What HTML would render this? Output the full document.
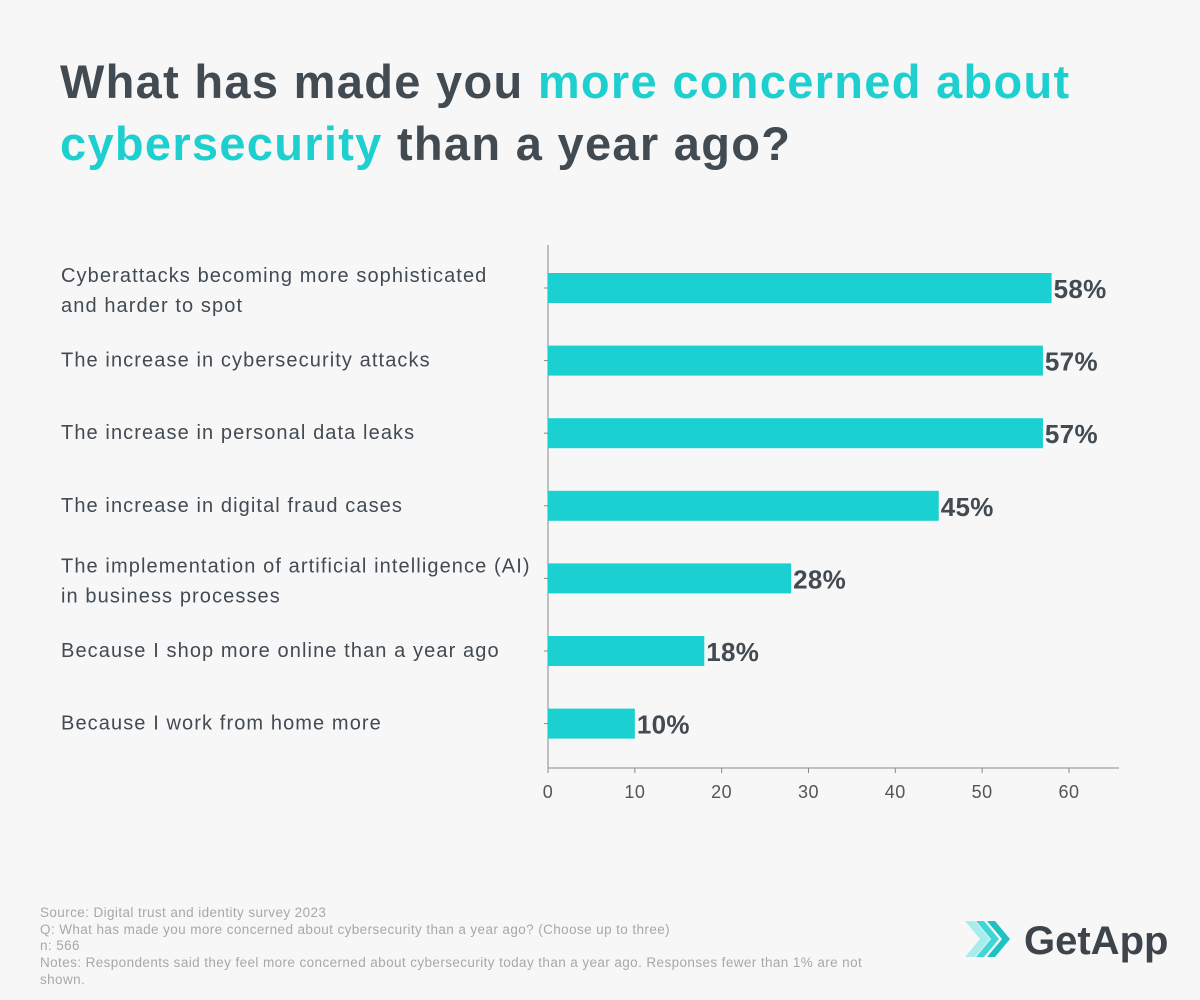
<!DOCTYPE html>
<html><head><meta charset="utf-8">
<style>
body{margin:0;width:1200px;height:1000px;background:#f7f7f7;font-family:"Liberation Sans",sans-serif;overflow:hidden;position:relative}
#title{position:absolute;left:60px;top:51px;font-size:47px;font-weight:bold;color:#424a52;line-height:62px;letter-spacing:1.3px}
#title span{color:#1ecfd0}
#foot{position:absolute;left:40px;top:905px;font-size:13.5px;color:#a8a8a8;line-height:16.7px;width:1120px;letter-spacing:0.4px}
</style></head><body>
<div id="title">What has made you <span>more concerned about<br>cybersecurity</span> than a year ago?</div>
<svg id="chart" width="1200" height="1000" style="position:absolute;left:0;top:0"></svg>
<div id="foot">Source: Digital trust and identity survey 2023<br>Q: What has made you more concerned about cybersecurity than a year ago? (Choose up to three)<br>n: 566<br>Notes: Respondents said they feel more concerned about cybersecurity today than a year ago. Responses fewer than 1% are not<br>shown.</div>
<svg width="220" height="50" style="position:absolute;left:960px;top:914px">
<polygon points="5,7 15,7 30,25 15,43 5,43 20,25" fill="#a8ecec"/>
<polygon points="16,7 24,7 39,25 24,43 16,43 31,25" fill="#3fd6d6"/>
<polygon points="27,7 35,7 50,25 35,43 27,43 42,25" fill="#1ec2c2"/>
<text x="64" y="40" font-size="40" font-weight="bold" fill="#3d444c" font-family="Liberation Sans, sans-serif" letter-spacing="0">GetApp</text>
</svg>
<script>
const categories=[["Cyberattacks becoming more sophisticated","and harder to spot"],["The increase in cybersecurity attacks"],["The increase in personal data leaks"],["The increase in digital fraud cases"],["The implementation of artificial intelligence (AI)","in business processes"],["Because I shop more online than a year ago"],["Because I work from home more"]];
const values=[58,57,57,45,28,18,10];
const ticks=[0,10,20,30,40,50,60];
const svg=document.getElementById('chart');
const NS='http://www.w3.org/2000/svg';
const x0=548,ppu=8.683,yTop=245,yAxis=768,band=72.6,first=288,bh=30;
const xs=v=>x0+v*ppu;
const ys=i=>first+i*band;
function mk(t,a){const e=document.createElementNS(NS,t);for(const k in a)e.setAttribute(k,a[k]);svg.appendChild(e);return e;}
let l=mk('line',{x1:x0,y1:yTop,x2:x0,y2:yAxis,stroke:'#888','stroke-width':1});


l=mk('line',{x1:x0,y1:yAxis,x2:1119,y2:yAxis,stroke:'#888','stroke-width':1});


ticks.forEach(t=>{
 mk('line',{x1:xs(t),y1:yAxis,x2:xs(t),y2:yAxis+5,stroke:'#888'});
 const tx=mk('text',{x:xs(t),y:yAxis+30,'text-anchor':'middle','font-size':18,fill:'#555','letter-spacing':0.5});
 tx.textContent=t;
 
 
});
values.forEach((v,i)=>{
 const c=ys(i);
 mk('line',{x1:x0-4,y1:c,x2:x0,y2:c,stroke:'#888'});
 const r=mk('rect',{x:x0,y:c-bh/2,width:xs(v)-x0,height:bh,fill:'#1ad0d0'});
 
 
 const vt=mk('text',{x:xs(v)+2,y:c+10,'font-size':26,'font-weight':'bold',fill:'#424a52','letter-spacing':0.3});
 vt.textContent=v+'%';
 
 
 const lines=categories[i];
 const t=mk('text',{x:61,'font-size':20,fill:'#424a52','letter-spacing':1.1});
 
 
 lines.forEach((s,j)=>{
  const sp=document.createElementNS(NS,'tspan');
  sp.setAttribute('x',61);
  sp.setAttribute('y',c+9+(j-(lines.length-1)/2)*30-(lines.length>1?0:3));
  sp.textContent=s;t.appendChild(sp);
 });
});
</script>
</body></html>
